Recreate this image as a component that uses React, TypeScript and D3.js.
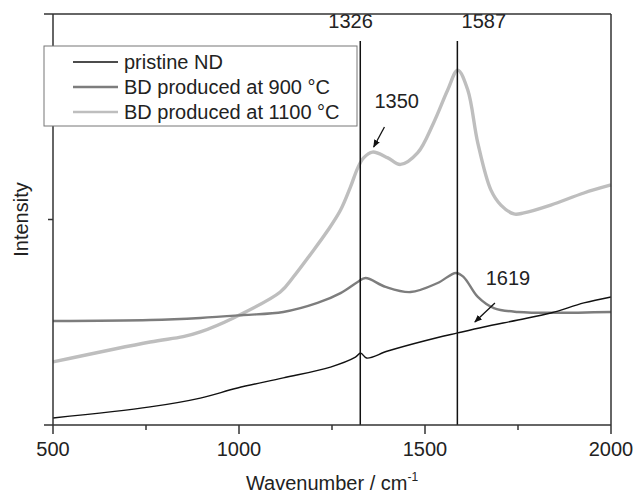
import React from 'react'
import * as d3 from 'd3'

// wavenumber (cm-1) and intensity (a.u., axis runs 0..2)
const ndWave = [500, 761, 896, 996, 1119, 1246, 1313, 1327, 1343, 1400, 1500, 1588, 1658, 1750, 1838, 1927, 2000]
const ndInt = [0.034, 0.088, 0.131, 0.18, 0.229, 0.282, 0.33, 0.35, 0.326, 0.36, 0.41, 0.448, 0.477, 0.511, 0.545, 0.594, 0.623]

const bd900Wave = [500, 761, 896, 1012, 1119, 1211, 1273, 1319, 1340, 1394, 1461, 1534, 1583, 1604, 1642, 1685, 1750, 2000]
const bd900Int = [0.506, 0.511, 0.521, 0.535, 0.55, 0.594, 0.642, 0.696, 0.715, 0.672, 0.647, 0.691, 0.74, 0.72, 0.623, 0.569, 0.55, 0.55]

const bd1100Wave = [500, 761, 850, 896, 985, 1111, 1146, 1192, 1238, 1273, 1300, 1319, 1335, 1359, 1400, 1434, 1480, 1523, 1561, 1588, 1615, 1642, 1677, 1704, 1739, 1766, 1838, 1927, 2000]
const bd1100Int = [0.307, 0.404, 0.43, 0.453, 0.521, 0.647, 0.72, 0.83, 0.945, 1.046, 1.16, 1.25, 1.3, 1.328, 1.3, 1.268, 1.324, 1.47, 1.63, 1.727, 1.63, 1.372, 1.144, 1.07, 1.027, 1.032, 1.07, 1.129, 1.168]

const seriesNames = ['pristine ND', 'BD produced at 900 \u00b0C', 'BD produced at 1100 \u00b0C']
const seriesColors = ['#111111', '#7d7d7d', '#bebebe']
const seriesWidths = [1.4, 2.4, 3.4]

const xMajorTicks = [500, 1000, 1500, 2000]
const xMinorTicks = [750, 1250, 1750]
const yMajorTicks = [0, 2]
const yMinorTicks = [1]

const peakLines = [1326, 1587]
const peakLabels = [
  { text: '1326', x: 1300, y: 1.93 },
  { text: '1587', x: 1658, y: 1.93 },
]
const peakLineTop = 1.869
const annotations = [
  { text: '1350', x: 1424, y: 1.543, from: [1391, 1.45], to: [1362, 1.353] },
  { text: '1619', x: 1723, y: 0.681, from: [1688, 0.594], to: [1634, 0.501] },
]

const W = 635
const H = 495
const margin = { top: 14, right: 24, bottom: 70, left: 53 }
const font = '"Liberation Sans", Arial, Helvetica, sans-serif'
const fs = 20

export default function App() {
  const x = d3.scaleLinear().domain([500, 2000]).range([margin.left, W - margin.right])
  const y = d3.scaleLinear().domain([0, 2]).range([H - margin.bottom, margin.top])

  const series = [
    ndWave.map((w, i) => [w, ndInt[i]]),
    bd900Wave.map((w, i) => [w, bd900Int[i]]),
    bd1100Wave.map((w, i) => [w, bd1100Int[i]]),
  ]
  const line = d3.line<number[]>()
    .x((d) => x(d[0]))
    .y((d) => y(d[1]))
    .curve(d3.curveCatmullRom.alpha(0.5))

  const x0 = x(500)
  const x1 = x(2000)
  const y0 = y(0)
  const y1 = y(2)
  const axisColor = '#333'

  const legendX = 44
  const legendY = 46

  return (
    <svg width={W} height={H} style={{ position: 'absolute', left: 0, top: 0, background: '#fff' }} fontFamily={font}>
      <defs>
        <marker id="arrow" viewBox="0 0 10 10" refX="9" refY="5" markerWidth="6" markerHeight="6" orient="auto">
          <path d="M0,1 L10,5 L0,9 z" fill="#111" />
        </marker>
      </defs>

      {/* curves, light first so dark sit on top */}
      {[2, 1, 0].map((i) => (
        <path key={i} d={line(series[i]) || ''} fill="none" stroke={seriesColors[i]} strokeWidth={seriesWidths[i]} strokeLinejoin="round" />
      ))}

      {/* peak markers */}
      {peakLines.map((p) => (
        <line key={p} x1={x(p)} x2={x(p)} y1={y(peakLineTop)} y2={y0} stroke="#111" strokeWidth={1.5} />
      ))}
      {peakLabels.map((l) => (
        <text key={l.text} x={x(l.x)} y={y(l.y)} textAnchor="middle" fontSize={fs} fill="#222">{l.text}</text>
      ))}
      {annotations.map((a) => (
        <g key={a.text}>
          <text x={x(a.x)} y={y(a.y)} textAnchor="middle" fontSize={fs} fill="#222">{a.text}</text>
          <line x1={x(a.from[0])} y1={y(a.from[1])} x2={x(a.to[0])} y2={y(a.to[1])} stroke="#111" strokeWidth={1.3} markerEnd="url(#arrow)" />
        </g>
      ))}

      {/* frame */}
      <line x1={x0} x2={x0} y1={y1} y2={y0} stroke={axisColor} strokeWidth={1.5} />
      <line x1={x1} x2={x1} y1={y1} y2={y0} stroke={axisColor} strokeWidth={1.5} />
      <line x1={x0} x2={x1} y1={y1} y2={y1} stroke={axisColor} strokeWidth={1.5} />
      <line x1={x0} x2={x1} y1={y0} y2={y0} stroke={axisColor} strokeWidth={1.5} />

      {/* y ticks (no labels) */}
      {yMajorTicks.map((t) => (
        <line key={'ym' + t} x1={x0 - 9} x2={x0} y1={y(t)} y2={y(t)} stroke={axisColor} strokeWidth={1.5} />
      ))}
      {yMinorTicks.map((t) => (
        <line key={'yn' + t} x1={x0 - 5} x2={x0} y1={y(t)} y2={y(t)} stroke={axisColor} strokeWidth={1.5} />
      ))}

      {/* x ticks */}
      {xMajorTicks.map((t) => (
        <g key={'xm' + t}>
          <line x1={x(t)} x2={x(t)} y1={y0} y2={y0 + 9} stroke={axisColor} strokeWidth={1.5} />
          <text x={x(t)} y={y0 + 31} textAnchor="middle" fontSize={fs} fill="#222">{t}</text>
        </g>
      ))}
      {xMinorTicks.map((t) => (
        <line key={'xn' + t} x1={x(t)} x2={x(t)} y1={y0} y2={y0 + 5} stroke={axisColor} strokeWidth={1.5} />
      ))}

      {/* axis titles */}
      <text x={(x0 + x1) / 2} y={490} textAnchor="middle" fontSize={fs} fill="#222">
        Wavenumber / cm<tspan dy={-9} fontSize={12}>-1</tspan>
      </text>
      <text transform={`translate(28,${(y0 + y1) / 2}) rotate(-90)`} textAnchor="middle" fontSize={fs} fill="#222">Intensity</text>

      {/* legend */}
      <rect x={legendX} y={legendY} width={313} height={80} fill="#fff" stroke="#777" strokeWidth={1} />
      {seriesNames.map((name, i) => (
        <g key={name} transform={`translate(${legendX},${legendY + 16 + i * 25})`}>
          <line x1={29} x2={74} y1={0} y2={0} stroke={seriesColors[i]} strokeWidth={Math.min(seriesWidths[i], 2.6)} />
          <text x={80} y={7} fontSize={fs} fill="#222">{name}</text>
        </g>
      ))}
    </svg>
  )
}
